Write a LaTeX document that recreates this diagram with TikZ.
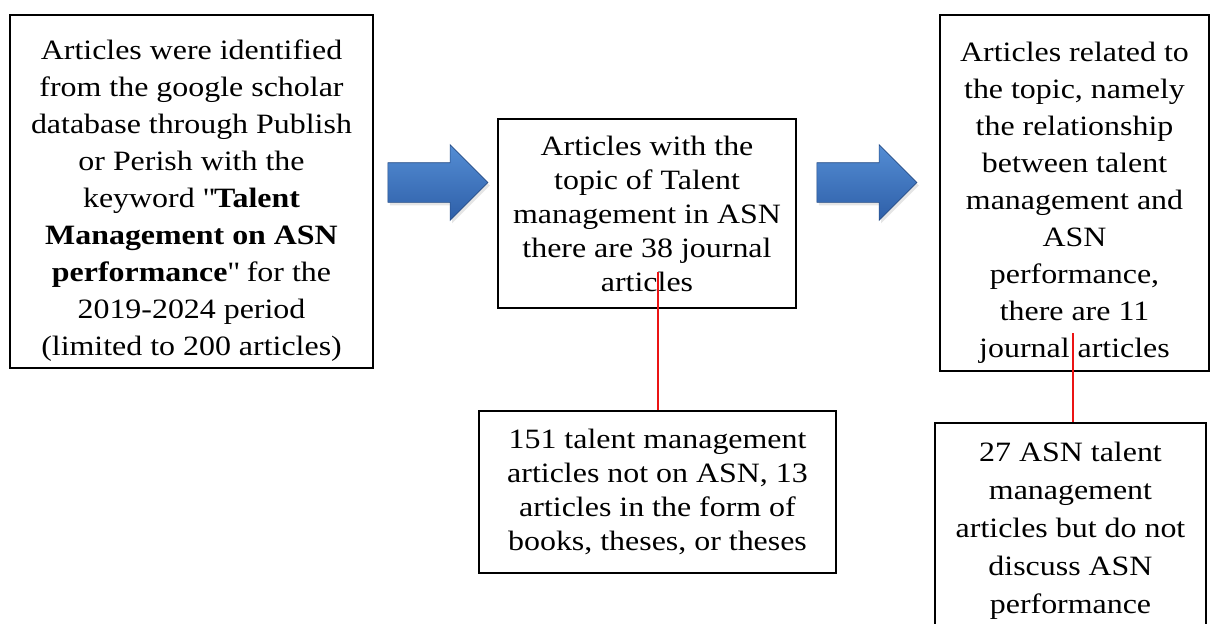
\documentclass[tikz,border=0pt]{standalone}
\usepackage{fontspec}
\setmainfont[FakeStretch=1.14]{Liberation Serif}
\usepackage{xcolor}
\definecolor{arrtop}{RGB}{84,141,212}
\definecolor{arrbot}{RGB}{46,95,168}
\definecolor{redln}{RGB}{235,20,20}
\usetikzlibrary{shapes.arrows,shadows}
\newcommand{\topstrut}{\rule{0pt}{19pt}}
\tikzset{box/.style={draw,thick,align=center,inner sep=0pt,font=\fontsize{14}{17}\selectfont},
widebox/.style={box,font=\fontsize{14}{18.5}\selectfont},
blockarrow/.style={single arrow,top color=arrtop,bottom color=arrbot,draw=arrbot!80!black,
 line width=0.3pt,inner xsep=0pt,inner ysep=9.75pt,single arrow head extend=9pt,minimum height=50pt,
 drop shadow={opacity=0.2,shadow xshift=1pt,shadow yshift=-1.5pt}}}

\begin{document}
\begin{tikzpicture}[x=0.5pt,y=-0.5pt]
\useasboundingbox (0,0) rectangle (1211,623);
\clip (0,0) rectangle (1211,623);
\fill[white] (0,0) rectangle (1211,623);
\node[widebox,minimum width=181.5pt,minimum height=176.5pt](src) at (191.5,191.5)
 {\topstrut Articles were identified\\from the google scholar\\database through Publish\\or Perish with the\\keyword \textquotedbl\textbf{Talent}\\\textbf{Management on ASN}\\\textbf{performance}\textquotedbl{} for the\\2019-2024 period\\(limited to 200 articles)};
\node[box,minimum width=149pt,minimum height=94.5pt](asn) at (647,213.5)
 {Articles with the\\topic of Talent\\management in ASN\\there are 38 journal\\articles};
\node[widebox,minimum width=134.5pt,minimum height=178pt](rel) at (1074.5,193)
 {\topstrut Articles related to\\the topic, namely\\the relationship\\between talent\\management and\\ASN\\performance,\\there are 11\\journal articles};
\node[box,minimum width=178.5pt,minimum height=81pt](out1) at (657.5,492)
 {151 talent management\\articles not on ASN, 13\\articles in the form of\\books, theses, or theses};
\node[box,font=\fontsize{14}{19}\selectfont,minimum width=135.5pt,minimum height=108pt](out2) at (1070.5,531)
 {27 ASN talent\\management\\articles but do not\\discuss ASN\\performance};
% arrows between the stages
\node[blockarrow](arr1) at (428,182.5){};
\node[blockarrow](arr2) at (857,182.5){};
% excluded articles
\draw[redln,thick]([xshift=0.25pt]out1.north) -- ++(0,-138);
\draw[redln,thick]([xshift=1.25pt]out2.north) -- ++(0,-89);
\end{tikzpicture}
\end{document}
